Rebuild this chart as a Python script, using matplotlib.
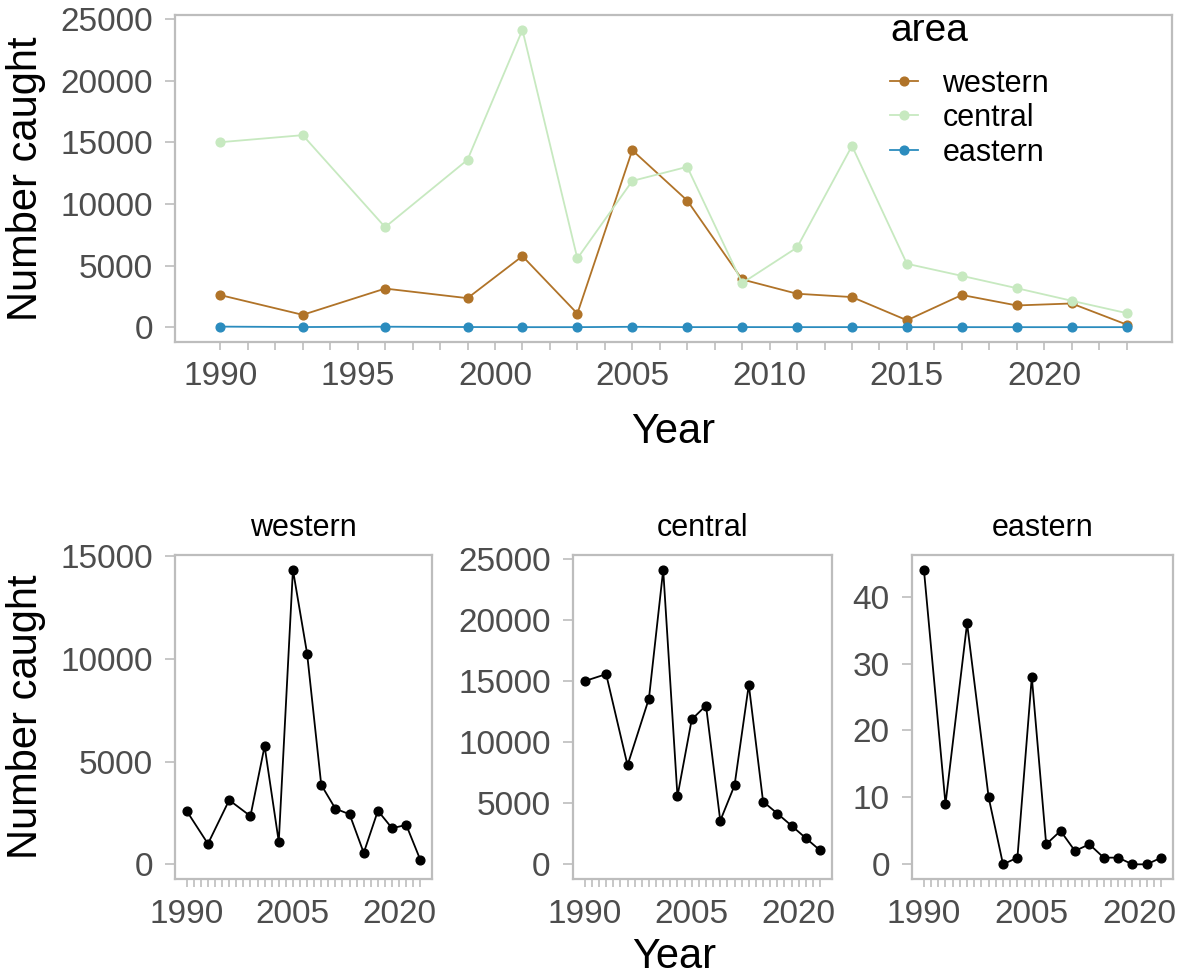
import matplotlib
matplotlib.use("Agg")
import matplotlib.pyplot as plt

plt.rcParams.update({
    "font.family": ["Liberation Sans", "DejaVu Sans"],
    "axes.edgecolor": "#BDBDBD",
    "axes.linewidth": 1.6,
    "xtick.color": "#BDBDBD",
    "ytick.color": "#BDBDBD",
    "xtick.labelcolor": "#4D4D4D",
    "ytick.labelcolor": "#4D4D4D",
    "xtick.labelsize": 24,
    "ytick.labelsize": 24,
})

years = [1990, 1993, 1996, 1999, 2001, 2003, 2005, 2007,
         2009, 2011, 2013, 2015, 2017, 2019, 2021, 2023]
western = [2600, 1000, 3130, 2350, 5760, 1100, 14350, 10270,
           3870, 2710, 2440, 560, 2610, 1760, 1920, 210]
central = [15000, 15570, 8110, 13570, 24110, 5570, 11860, 13000,
           3570, 6460, 14700, 5140, 4160, 3160, 2140, 1140]
eastern = [44, 9, 36, 10, 0, 1, 28, 3, 5, 2, 3, 1, 1, 0, 0, 1]

areas = ["western", "central", "eastern"]
series = {"western": western, "central": central, "eastern": eastern}
colors = {"western": "#B07328", "central": "#C7E9C0", "eastern": "#2B8CBE"}

all_years = list(range(years[0], years[-1] + 1))
span = years[-1] - years[0]
xlim = (years[0] - 0.05 * span, years[-1] + 0.05 * span)


def style_axes(ax, labelled):
    ax.set_xlim(*xlim)
    ax.set_xticks(all_years)
    ax.set_xticklabels([str(y) if y in labelled else "" for y in all_years])
    ax.tick_params(axis="x", length=6, width=1.2, pad=8)
    ax.tick_params(axis="y", length=7, width=1.2, pad=9)


fig = plt.figure(figsize=(11.77, 9.8), dpi=100)

# top: all areas together
ax = fig.add_axes([0.1487, 0.651, 0.847, 0.3337])
for a in areas:
    ax.plot(years, series[a], color=colors[a], marker="o", markersize=6.3,
            linewidth=1.3, label=a)
ymax = max(max(western), max(central))
ax.set_ylim(-0.05 * ymax, ymax * 1.05)
ax.set_yticks(range(0, 25001, 5000))
style_axes(ax, [1990, 1995, 2000, 2005, 2010, 2015, 2020])
ax.set_xlabel("Year", fontsize=30, labelpad=14)
ax.set_ylabel("Number caught", fontsize=30, labelpad=10)
leg = ax.legend(title="area", loc="upper left", bbox_to_anchor=(0.69, 1.09),
                frameon=False, fontsize=22, title_fontsize=28,
                handlelength=0.9, handletextpad=0.8, labelspacing=0.15,
                alignment="left")
leg._legend_box.sep = 14

# bottom: one panel per area
lefts = [0.1487, 0.4868, 0.7749]
widths = [0.2184, 0.22, 0.2218]
yticks = {"western": range(0, 15001, 5000),
          "central": range(0, 25001, 5000),
          "eastern": range(0, 41, 10)}
for i, a in enumerate(areas):
    bx = fig.add_axes([lefts[i], 0.103, widths[i], 0.3306])
    bx.plot(years, series[a], color="black", marker="o", markersize=6.3,
            linewidth=1.3)
    m = max(series[a])
    bx.set_ylim(-0.05 * m, m * 1.05)
    bx.set_yticks(list(yticks[a]))
    style_axes(bx, [1990, 2005, 2020])
    bx.set_title(a, fontsize=22, pad=14)
    if i == 0:
        bx.set_ylabel("Number caught", fontsize=30, labelpad=10)

fig.text(674 / 1177, 1 - 957 / 980, "Year", fontsize=30,
         ha="center", va="center")

fig.savefig("out.png", dpi=100)
